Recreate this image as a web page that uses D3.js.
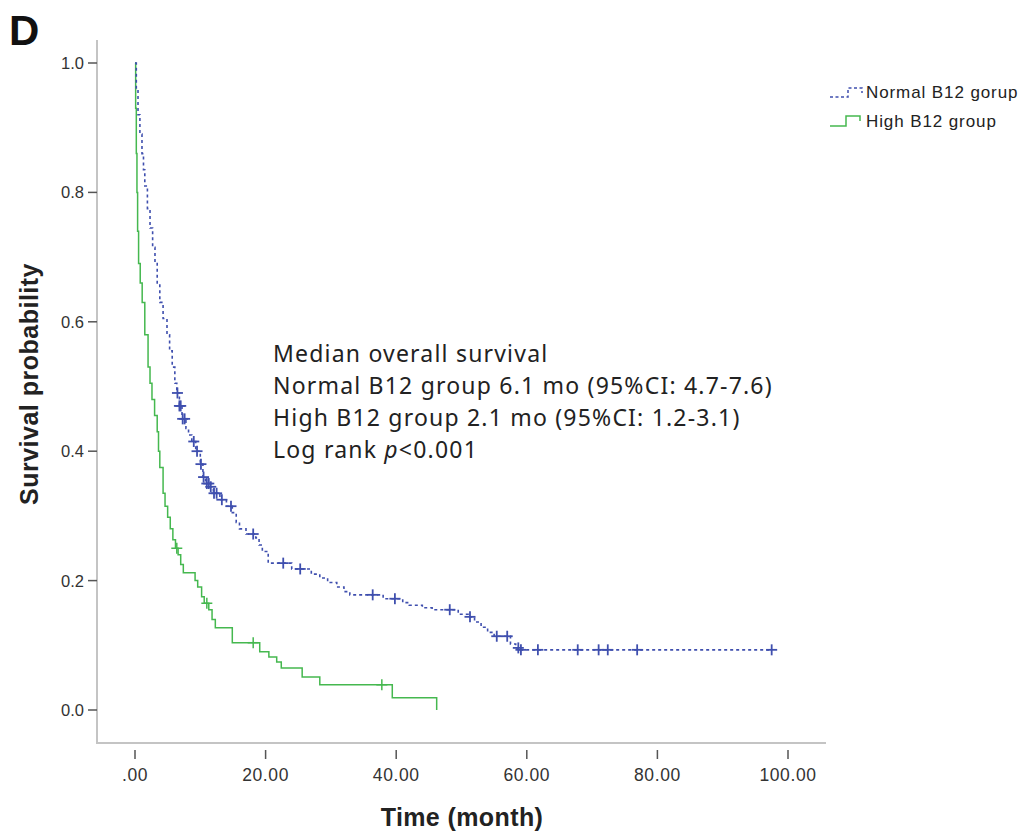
<!DOCTYPE html>
<html>
<head>
<meta charset="utf-8">
<script src="https://cdn.jsdelivr.net/npm/d3@7"></script>
<style>
  body { margin: 0; background: #fff; }
  svg { display: block; }
</style>
</head>
<body>
<div id="chart"></div>
<script>
// Kaplan-Meier estimates (time in months, survival)
const normalTimes = [0, 0.2, 0.46, 0.75, 1.07, 1.3, 1.5, 1.9, 2.3, 2.7, 3.06, 3.4, 3.8, 4.3, 4.9, 5.3, 5.7, 6.1, 6.4, 6.8, 7.2, 7.8, 8.2, 8.7, 9.3, 10.0, 10.4, 10.8, 11.5, 12.0, 13.0, 14.0, 14.9, 15.5, 16.0, 17.0, 18.5, 19.0, 19.5, 20.4, 24.0, 27.0, 28.3, 29.5, 30.9, 32.0, 32.9, 38.0, 41.0, 42.0, 44.0, 45.5, 49.5, 51.0, 52.0, 53.0, 54.0, 55.0, 57.5, 58.3, 59.0, 97.5]
const normalSurv  = [1.0, 0.96, 0.92, 0.89, 0.86, 0.835, 0.81, 0.775, 0.745, 0.715, 0.69, 0.66, 0.63, 0.605, 0.58, 0.555, 0.53, 0.505, 0.49, 0.47, 0.45, 0.435, 0.425, 0.415, 0.4, 0.38, 0.36, 0.35, 0.345, 0.335, 0.325, 0.315, 0.305, 0.29, 0.28, 0.272, 0.266, 0.255, 0.245, 0.227, 0.218, 0.21, 0.204, 0.197, 0.19, 0.183, 0.178, 0.172, 0.166, 0.162, 0.158, 0.155, 0.148, 0.144, 0.136, 0.128, 0.12, 0.114, 0.102, 0.096, 0.093, 0.093]
const normalCensor = [6.5, 6.8, 7.0, 7.3, 7.6, 9.0, 9.5, 10.1, 10.5, 11.0, 11.3, 11.6, 12.1, 12.5, 13.3, 14.7, 18.1, 22.7, 25.3, 36.4, 39.8, 48.2, 51.3, 55.4, 57.0, 58.7, 59.1, 61.7, 67.8, 71.0, 72.4, 76.9, 97.5]

const highTimes = [0, 0.1, 0.2, 0.3, 0.4, 0.55, 0.8, 1.1, 1.5, 2.0, 2.3, 2.6, 3.0, 3.4, 3.6, 3.8, 4.3, 4.6, 5.0, 5.4, 5.8, 6.2, 6.6, 7.0, 7.4, 9.2, 9.6, 10.2, 10.6, 11.3, 11.8, 12.3, 14.9, 19.1, 20.5, 21.7, 22.4, 25.6, 28.3, 39.4, 46.2]
const highSurv  = [1.0, 0.93, 0.86, 0.8, 0.74, 0.69, 0.66, 0.63, 0.58, 0.53, 0.505, 0.48, 0.455, 0.43, 0.4, 0.375, 0.335, 0.315, 0.298, 0.28, 0.263, 0.25, 0.24, 0.225, 0.212, 0.2, 0.19, 0.175, 0.165, 0.155, 0.14, 0.127, 0.104, 0.09, 0.082, 0.074, 0.065, 0.051, 0.039, 0.019, 0.0]
const highCensor = [6.4, 11.0, 18.1, 37.8]

const xTicks = [0, 20, 40, 60, 80, 100]
const xTickLabels = [".00", "20.00", "40.00", "60.00", "80.00", "100.00"]
const yTicks = [0, 0.2, 0.4, 0.6, 0.8, 1.0]

const legendLabels = ["Normal B12 gorup", "High B12 group"]
const noteLines = ["Median overall survival", "Normal B12 group 6.1 mo (95%CI: 4.7-7.6)", "High B12 group 2.1 mo (95%CI: 1.2-3.1)"]

const blue = "#3f4fae", green = "#45b84f"

const svg = d3.select("#chart")
  .append("svg")
  .attr("width", 1024)
  .attr("height", 831)

const x = d3.scaleLinear().domain([0, 100]).range([135, 788])
const y = d3.scaleLinear().domain([0, 1]).range([710, 63])

// axes frame (light grey)
svg.append("line").attr("x1", 97).attr("x2", 97).attr("y1", 40).attr("y2", 744)
  .style("stroke", "#c4c4c4").style("stroke-width", 2)
svg.append("line").attr("x1", 96).attr("x2", 826).attr("y1", 743).attr("y2", 743)
  .style("stroke", "#c4c4c4").style("stroke-width", 2)

// y ticks
const yAxis = svg.append("g")
yAxis.selectAll("line").data(yTicks).join("line")
  .attr("x1", 88).attr("x2", 97)
  .attr("y1", d => y(d)).attr("y2", d => y(d))
  .style("stroke", "#555").style("stroke-width", 1.5)
yAxis.selectAll("text").data(yTicks).join("text")
  .attr("x", 84).attr("y", d => y(d) + 6)
  .attr("text-anchor", "end")
  .style("font", "16.5px 'Liberation Sans', Arial, sans-serif").style("fill", "#333")
  .text(d => d3.format(".1f")(d))

// x ticks
const xAxis = svg.append("g")
xAxis.selectAll("line").data(xTicks).join("line")
  .attr("x1", d => x(d)).attr("x2", d => x(d))
  .attr("y1", 750).attr("y2", 759)
  .style("stroke", "#555").style("stroke-width", 1.5)
xAxis.selectAll("text").data(xTicks).join("text")
  .attr("x", d => x(d)).attr("y", 781)
  .attr("text-anchor", "middle")
  .style("font", "17.5px 'Liberation Sans', Arial, sans-serif").style("fill", "#333")
  .style("letter-spacing", "0.6px")
  .text((d, i) => xTickLabels[i])

// axis titles
svg.append("text").attr("x", 462).attr("y", 826).attr("text-anchor", "middle")
  .style("font", "bold 25px 'Liberation Sans', Arial, sans-serif").style("fill", "#222")
  .style("letter-spacing", "0.4px")
  .text("Time (month)")
svg.append("text").attr("transform", "translate(38,384) rotate(-90)").attr("text-anchor", "middle")
  .style("font", "bold 25px 'Liberation Sans', Arial, sans-serif").style("fill", "#222")
  .style("letter-spacing", "0.5px")
  .text("Survival probability")

// panel letter
svg.append("text").attr("x", 9).attr("y", 45)
  .style("font", "bold 42px 'Liberation Sans', Arial, sans-serif").style("fill", "#111")
  .text("D")

// survival curves
const stepLine = d3.line()
  .x(d => x(d[0])).y(d => y(d[1]))
  .curve(d3.curveStepAfter)

svg.append("path")
  .datum(d3.zip(highTimes, highSurv))
  .attr("d", stepLine)
  .style("fill", "none").style("stroke", green).style("stroke-width", 1.5)

svg.append("path")
  .datum(d3.zip(normalTimes, normalSurv))
  .attr("d", stepLine)
  .style("fill", "none").style("stroke", blue).style("stroke-width", 1.6)
  .style("stroke-dasharray", "3,3")

// censor marks
function survAt(times, surv, t) {
  const i = d3.bisectRight(times, t) - 1
  return surv[Math.max(0, i)]
}
function drawCensor(list, times, surv, color, w) {
  const g = svg.append("g").style("stroke", color).style("stroke-width", w)
  list.forEach(t => {
    const cx = x(t), cy = y(survAt(times, surv, t))
    g.append("line").attr("x1", cx - 5.5).attr("x2", cx + 5.5).attr("y1", cy).attr("y2", cy)
    g.append("line").attr("x1", cx).attr("x2", cx).attr("y1", cy - 5.5).attr("y2", cy + 5.5)
  })
}
drawCensor(normalCensor, normalTimes, normalSurv, blue, 1.8)
drawCensor(highCensor, highTimes, highSurv, green, 1.5)

// legend
const legend = svg.append("g")
legend.append("path")
  .attr("d", "M830,97 H848 V88 H862 V93")
  .style("fill", "none").style("stroke", blue).style("stroke-width", 1.5).style("stroke-dasharray", "3,2.5")
legend.append("path")
  .attr("d", "M830,126 H846 V116 H860 V121")
  .style("fill", "none").style("stroke", green).style("stroke-width", 1.5)
legend.selectAll("text").data(legendLabels).join("text")
  .attr("x", 866).attr("y", (d, i) => 98 + i * 29)
  .style("font", "17px 'Liberation Sans', Arial, sans-serif").style("fill", "#222")
  .style("letter-spacing", "0.9px")
  .text(d => d)

// annotation
const note = svg.append("g").style("font", "23px 'Noto Sans', sans-serif").style("fill", "#222")
  .style("letter-spacing", "1.2px")
note.selectAll("text.l").data(noteLines).join("text").attr("class", "l")
  .attr("x", 273).attr("y", (d, i) => 362 + i * 32)
  .text(d => d)
const last = note.append("text").attr("x", 273).attr("y", 362 + 3 * 32)
last.append("tspan").text("Log rank ")
last.append("tspan").style("font-style", "italic").text("p")
last.append("tspan").text("<0.001")
</script>
</body>
</html>
